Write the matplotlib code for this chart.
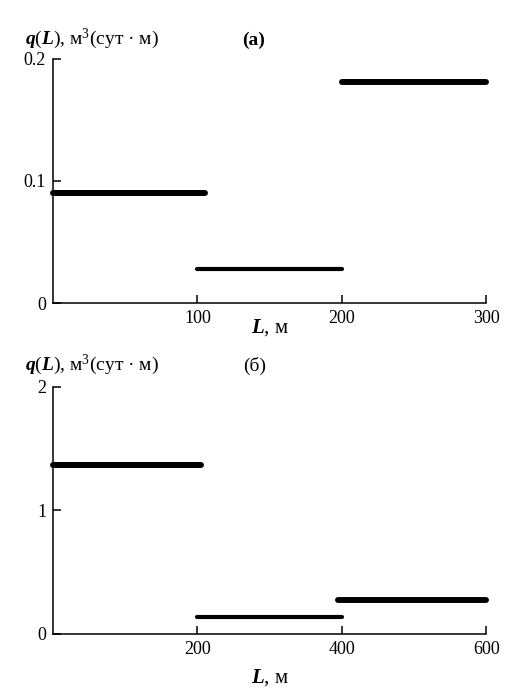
import matplotlib
matplotlib.use('Agg')
import matplotlib.pyplot as plt

plt.rcParams['font.family'] = ['Liberation Serif', 'DejaVu Serif']
plt.rcParams['mathtext.fontset'] = 'custom'
plt.rcParams['mathtext.it'] = 'Liberation Serif:italic:bold'
plt.rcParams['mathtext.rm'] = 'Liberation Serif'

# panel (а)
a_start = [0, 100, 200]
a_end = [105, 200, 300]
a_q = [0.09, 0.028, 0.181]
a_width = [4.3, 3.0, 4.3]
a_xticks = [100, 200, 300]
a_yticks = [0, 0.1, 0.2]
a_yticklabels = ['0', '0.1', '0.2']

# panel (б)
b_start = [0, 200, 395]
b_end = [205, 400, 600]
b_q = [1.37, 0.135, 0.272]
b_width = [4.3, 3.0, 4.3]
b_xticks = [200, 400, 600]
b_yticks = [0, 1, 2]
b_yticklabels = ['0', '1', '2']

ylabel = '$q$($L$), м$^3$(сут · м)'
xlabel = '$L$, м'

fig = plt.figure(figsize=(5.2, 6.94), dpi=100)
ax1 = fig.add_axes([0.102, 0.5634, 0.833, 0.3516])
ax2 = fig.add_axes([0.102, 0.0865, 0.833, 0.3559])


def style(ax, xmax, ymax, xticks, yticks, yticklabels):
    ax.set_xlim(0, xmax)
    ax.set_ylim(0, ymax)
    for loc in 'top', 'right':
        ax.spines[loc].set_visible(False)
    for loc in 'left', 'bottom':
        ax.spines[loc].set_linewidth(1.1)
    ax.set_xticks(xticks)
    ax.set_yticks(yticks)
    ax.set_yticklabels(yticklabels)
    ax.tick_params(direction='in', length=6, width=1.1, labelsize=13,
                   pad=5)


for s, e, q, w in zip(a_start, a_end, a_q, a_width):
    ax1.plot([s, e], [q, q], color='black', lw=w, solid_capstyle='round',
             clip_on=False)
style(ax1, 300, 0.2, a_xticks, a_yticks, a_yticklabels)

for s, e, q, w in zip(b_start, b_end, b_q, b_width):
    ax2.plot([s, e], [q, q], color='black', lw=w, solid_capstyle='round',
             clip_on=False)
style(ax2, 600, 2, b_xticks, b_yticks, b_yticklabels)

fig.text(0.048, 0.944, ylabel, fontsize=14, ha='left', va='center')
fig.text(0.487, 0.942, '(а)', fontsize=14, fontweight='bold', ha='center',
         va='center')
fig.text(0.52, 0.528, xlabel, fontsize=15, ha='center', va='center')

fig.text(0.048, 0.474, ylabel, fontsize=14, ha='left', va='center')
fig.text(0.49, 0.472, '(б)', fontsize=14, ha='center', va='center')
fig.text(0.52, 0.024, xlabel, fontsize=15, ha='center', va='center')

fig.savefig('out.png', dpi=100)
